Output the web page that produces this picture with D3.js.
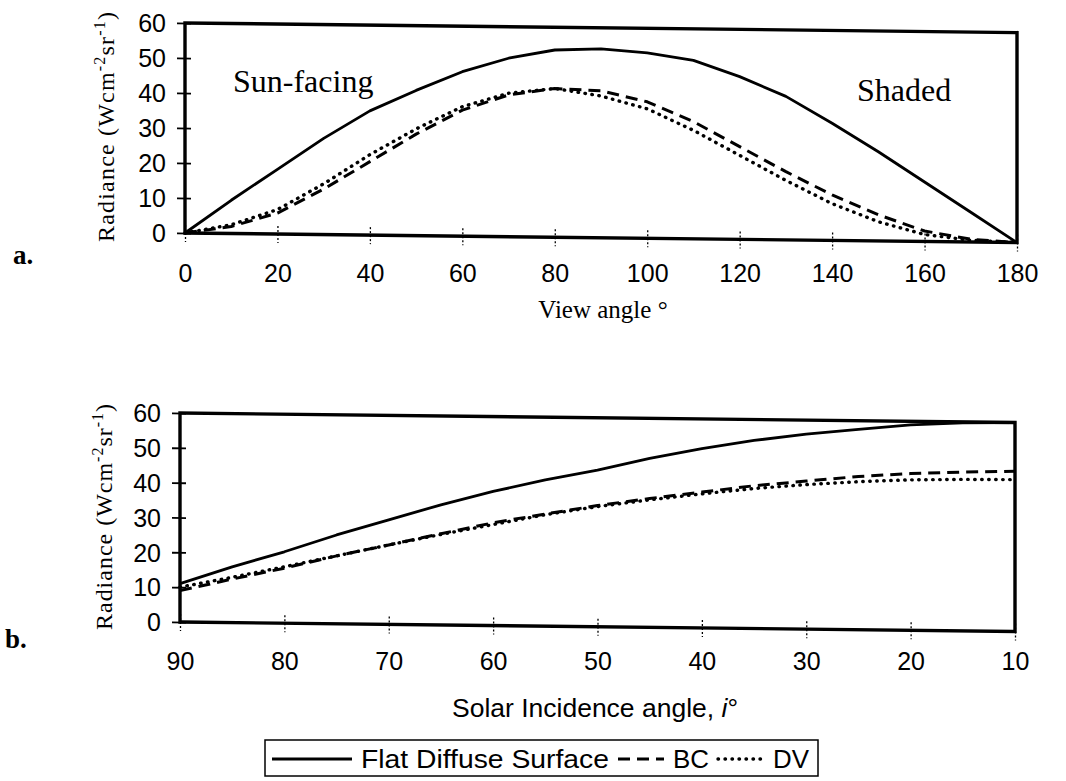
<!DOCTYPE html>
<html><head><meta charset="utf-8">
<script src="https://cdn.jsdelivr.net/npm/d3@7"></script>
<style>body{margin:0;background:#fff}svg{display:block}</style>
</head><body>
<svg id="c" width="1066" height="781"></svg>
<script>
// ---- Data: panel a (view angle) ----
const viewAngles = [0,10,20,30,40,50,60,70,80,90,100,110,120,130,140,150,160,170,180];
const aFlat = [0,9.5,18.5,27.5,35.5,41.5,47,51,53.5,54,53,51,46.5,41,33.5,25.5,17,8.5,0];
const aBC   = [0,2,6,13,21,29,36,40.5,42.5,42,39,33.5,26.5,19.5,13,7.5,3,0.8,0];
const aDV   = [0,2.5,7,14.5,23,30.5,37,41,42.5,40.5,37,31,24,17,10.5,5.5,2,0.5,0];
const aXTicks = [0,20,40,60,80,100,120,140,160,180];
// ---- Data: panel b (solar incidence angle) ----
const incAngles = [90,85,80,75,70,65,60,55,50,45,40,35,30,25,20,15,10];
const bFlat = [11,16,20.5,25.5,30,34.5,38.5,42,45,48.5,51.5,54,56,57.5,59,59.7,60];
const bBC   = [9,12.5,15.8,19.5,22.8,26.2,29.5,32.2,34.8,37,39,41,42.5,44,45,45.6,46];
const bDV   = [10,13,16.2,19.5,22.8,26,29,32,34.5,36.6,38.5,40.2,41.5,42.5,43.2,43.5,43.6];
const bXTicks = [90,80,70,60,50,40,30,20,10];
const yTicks = [0,10,20,30,40,50,60];
const seriesNames = ["Flat Diffuse Surface","BC","DV"];

const svg = d3.select("#c");
const SANS = "'Liberation Sans', Arial, sans-serif";
const SERIF = "'Liberation Serif', 'Times New Roman', serif";
const styles = [
  {dash:null, cap:"butt", w:2.8},
  {dash:"12,7", cap:"butt", w:3},
  {dash:"0.5,6.5", cap:"round", w:3.4}
];

function panel(opts){
  const {xs, series, xDomain, xRange, yRange, xTicks, shear} = opts;
  const x = d3.scaleLinear().domain(xDomain).range(xRange);
  const y = d3.scaleLinear().domain([0,60]).range(yRange);
  const x0 = xRange[0];
  const g = svg.append("g").attr("transform", `matrix(1,${shear},0,1,0,${-shear*x0})`);
  const line = d3.line().x((d,i)=>x(xs[i])).y(d=>y(d));
  series.forEach((s,k)=>{
    g.append("path").attr("d", line(s)).attr("fill","none").attr("stroke","#000")
      .attr("stroke-width", styles[k].w).attr("stroke-dasharray", styles[k].dash)
      .attr("stroke-linecap", styles[k].cap).attr("stroke-linejoin","round");
  });
  g.append("rect").attr("x", x.range()[0]).attr("y", y(60))
    .attr("width", x.range()[1]-x.range()[0]).attr("height", y(0)-y(60))
    .attr("fill","none").attr("stroke","#000").attr("stroke-width",3.4);
  const ya = g.append("g").attr("transform",`translate(${x0},0)`)
    .call(d3.axisLeft(y).tickValues(yTicks).tickSize(7).tickFormat(""));
  ya.select(".domain").remove();
  ya.selectAll(".tick line").attr("x2",-8).attr("x1",6).attr("stroke","#000").attr("stroke-width",1.8);
  const xa = g.append("g").attr("transform",`translate(0,${y(0)})`)
    .call(d3.axisBottom(x).tickValues(xTicks).tickSize(9).tickFormat(""));
  xa.select(".domain").remove();
  xa.selectAll(".tick line").attr("y1",-8).attr("stroke","#000").attr("stroke-width",1.3).attr("stroke-dasharray","2,2");
  const yl = svg.append("g").attr("transform",`translate(${x0-16},0)`)
    .call(d3.axisLeft(y).tickValues(yTicks).tickSize(0));
  yl.select(".domain").remove();
  yl.selectAll("text").attr("font-family",SANS).attr("font-size",25).attr("fill","#000").attr("dy","0.35em");
  const xl = svg.append("g").attr("transform",`translate(0,${opts.xLabelY})`)
    .call(d3.axisBottom(x).tickValues(xTicks).tickSize(0));
  xl.select(".domain").remove();
  xl.selectAll("text").attr("font-family",SANS).attr("font-size",25).attr("fill","#000").attr("dy",0).attr("y",0);
  return {x,y};
}

function yTitle(cx, cy, len){
  const t = svg.append("text").attr("transform",`translate(${cx},${cy}) rotate(-90)`)
    .attr("text-anchor","middle").attr("font-family",SERIF).attr("font-size",24).attr("fill","#000")
    .attr("textLength",len).attr("lengthAdjust","spacing");
  t.append("tspan").text("Radiance (Wcm");
  t.append("tspan").attr("dy",-9).attr("font-size",16).text("-2");
  t.append("tspan").attr("dy",9).text("sr");
  t.append("tspan").attr("dy",-9).attr("font-size",16).text("-1");
  t.append("tspan").attr("dy",9).text(")");
}

// Panel a
panel({xs:viewAngles, series:[aFlat,aBC,aDV], xDomain:[0,180], xRange:[185,1017], yRange:[233,23],
       xTicks:aXTicks, shear:0.0115, xLabelY:282});
yTitle(114, 127, 230);
svg.append("text").attr("x",13).attr("y",264).attr("font-family",SERIF).attr("font-weight","bold")
  .attr("font-size",27).text("a.");
svg.append("text").attr("x",233).attr("y",92).attr("font-family",SERIF).attr("font-size",32).text("Sun-facing");
svg.append("text").attr("x",857).attr("y",101).attr("font-family",SERIF).attr("font-size",32).text("Shaded");
svg.append("text").attr("x",603).attr("y",318).attr("text-anchor","middle").attr("font-family",SERIF)
  .attr("font-size",25).text("View angle °");

// Panel b
panel({xs:incAngles, series:[bFlat,bBC,bDV], xDomain:[90,10], xRange:[180,1015], yRange:[622,413],
       xTicks:bXTicks, shear:0.0114, xLabelY:670});
yTitle(112, 517, 226);
svg.append("text").attr("x",5).attr("y",648).attr("font-family",SERIF).attr("font-weight","bold")
  .attr("font-size",27).text("b.");
const xt = svg.append("text").attr("x",452).attr("y",717).attr("font-family",SANS)
  .attr("font-size",25).attr("textLength",286).attr("lengthAdjust","spacingAndGlyphs");
xt.append("tspan").text("Solar Incidence angle, ");
xt.append("tspan").attr("font-style","italic").text("i");
xt.append("tspan").text("°");

// Legend
const lg = svg.append("g");
const lgY = 759;
const segLen = [80,46,46];
const txtLen = [248,36,36];
let cx = 272;
const boxLeft = 265;
seriesNames.forEach((name,k)=>{
  lg.append("line").attr("x1",cx).attr("x2",cx+segLen[k]).attr("y1",lgY).attr("y2",lgY)
    .attr("stroke","#000").attr("stroke-width",styles[k].w).attr("stroke-dasharray",styles[k].dash)
    .attr("stroke-linecap",styles[k].cap);
  cx += segLen[k] + 9;
  lg.append("text").attr("x",cx).attr("y",lgY+9).attr("font-family",SANS).attr("font-size",25)
    .attr("textLength",txtLen[k]).attr("lengthAdjust","spacingAndGlyphs").text(name);
  cx += txtLen[k] + 9;
});
lg.insert("rect",":first-child").attr("x",boxLeft).attr("y",740).attr("width",cx-boxLeft).attr("height",36)
  .attr("fill","#fff").attr("stroke","#000").attr("stroke-width",1.5);
</script>
</body></html>
